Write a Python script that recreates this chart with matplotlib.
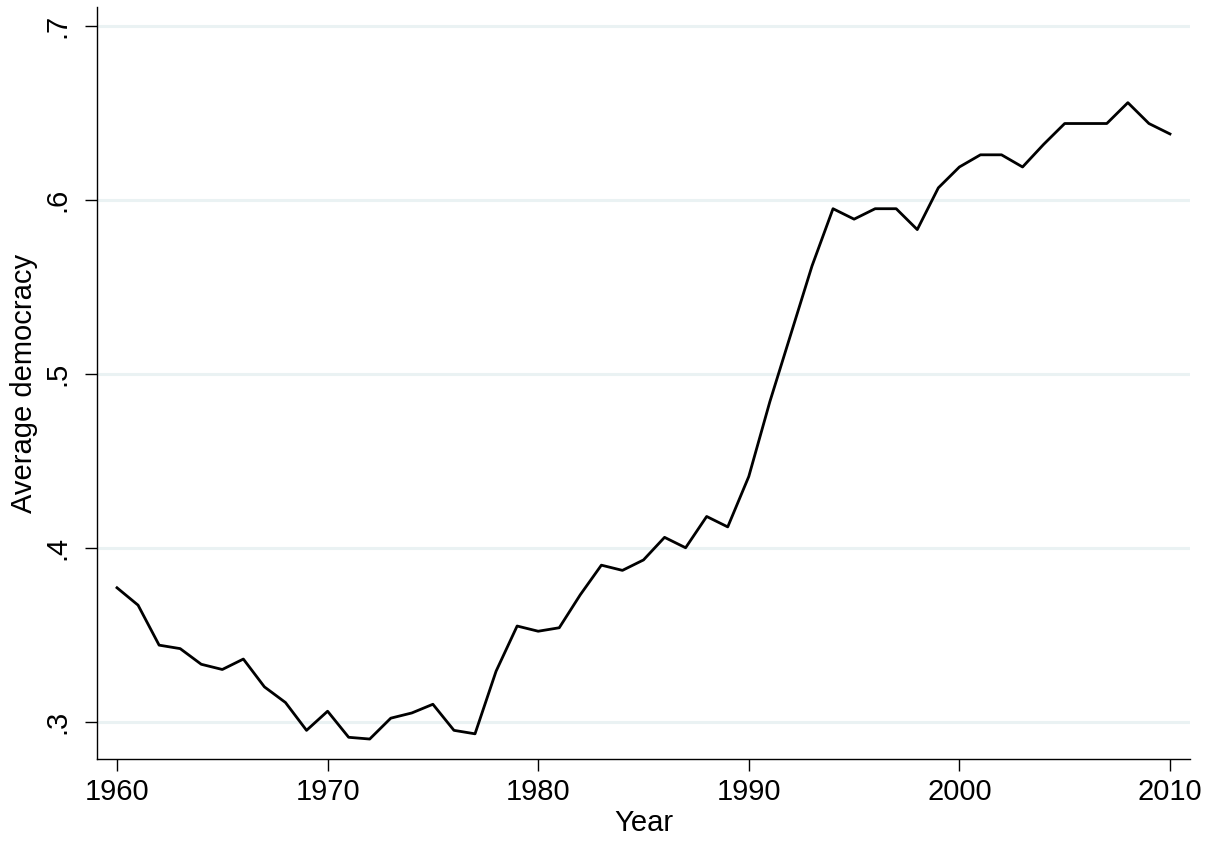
import matplotlib
matplotlib.use("Agg")
import matplotlib.pyplot as plt
import numpy as np

# yearly average democracy
years = np.arange(1960, 2011)
democracy = [
    0.377, 0.367, 0.344, 0.342, 0.333, 0.330, 0.336, 0.320, 0.311, 0.295,
    0.306, 0.291, 0.290, 0.302, 0.305, 0.310, 0.295, 0.293, 0.329, 0.355,
    0.352, 0.354, 0.373, 0.390, 0.387, 0.393, 0.406, 0.400, 0.418, 0.412,
    0.441, 0.484, 0.523, 0.562, 0.595, 0.589, 0.595, 0.595, 0.583, 0.607,
    0.619, 0.626, 0.626, 0.619, 0.632, 0.644, 0.644, 0.644, 0.656, 0.644,
    0.638,
]
xticks = [1960, 1970, 1980, 1990, 2000, 2010]
yticks = [0.3, 0.4, 0.5, 0.6, 0.7]
ytick_labels = [".3", ".4", ".5", ".6", ".7"]

plt.rcParams['font.family'] = ['Liberation Sans', 'DejaVu Sans']

fig = plt.figure(figsize=(12.2, 8.46), dpi=100)
fig.patch.set_facecolor('white')
ax = fig.add_axes([0.0795, 0.1028, 0.8959, 0.8889])

for v in yticks:
    ax.axhline(v, color='#EAF2F3', linewidth=2.2, zorder=0)

ax.plot(years, democracy, color='black', linewidth=2.0, zorder=3)

ax.set_xlim(1959.05, 2010.95)
ax.set_ylim(0.2785, 0.711)
ax.set_xticks(xticks)
ax.set_yticks(yticks)
ax.set_yticklabels(ytick_labels, rotation=90, va='center')
ax.tick_params(axis='both', direction='out', length=8.6, width=1.0,
               labelsize=21, color='black')
ax.tick_params(axis='x', pad=5)
ax.tick_params(axis='y', pad=10)

for side in ['top', 'right']:
    ax.spines[side].set_visible(False)
for side in ['left', 'bottom']:
    ax.spines[side].set_linewidth(1.0)

ax.set_xlabel("Year", fontsize=21, labelpad=2)
ax.set_ylabel("Average democracy", fontsize=21, labelpad=4)

fig.savefig("out.png", dpi=100)
